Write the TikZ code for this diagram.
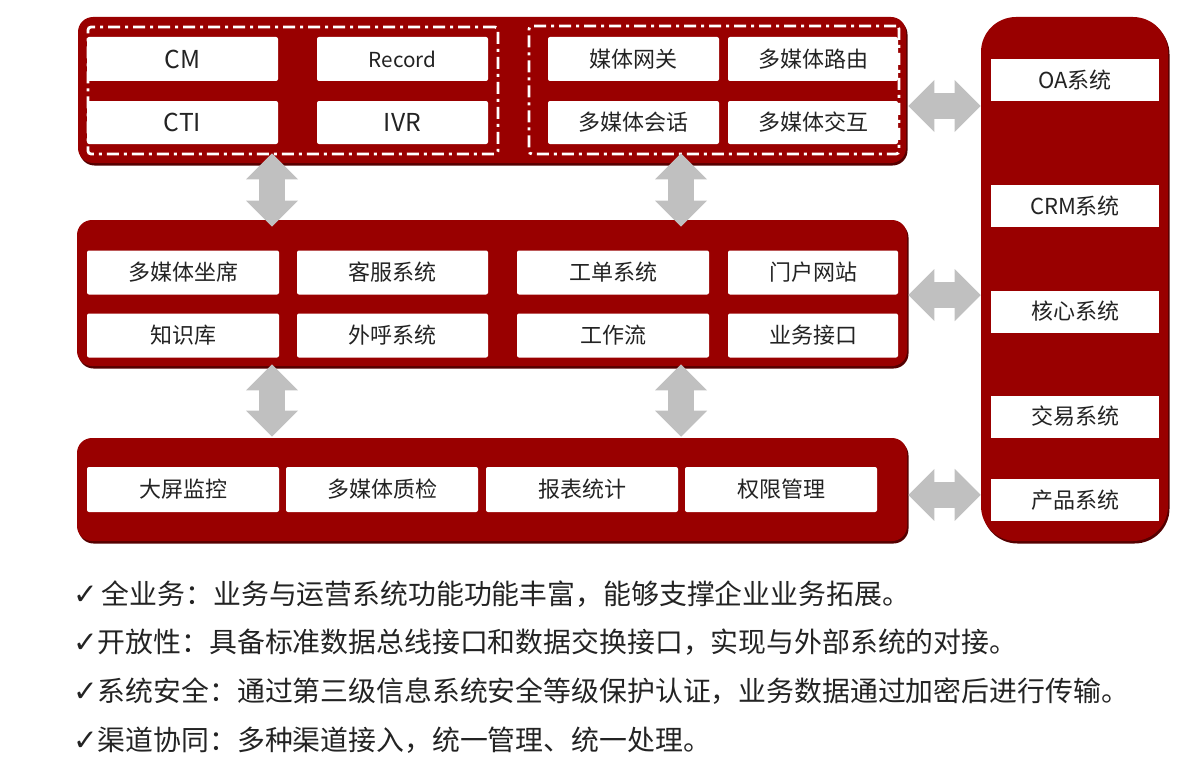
\documentclass[tikz,border=0pt]{standalone}
\usepackage{fontspec}
\setmainfont{Noto Sans CJK SC}
\newfontfamily\symfont{DejaVu Sans}
\usepackage{xcolor}
\usepackage{tikz}
\usetikzlibrary{arrows.meta, shadows}
\definecolor{blockred}{RGB}{153, 0, 0}
\definecolor{edgered}{RGB}{85, 0, 0}
\definecolor{arrowgray}{RGB}{192, 192, 192}
\definecolor{textgray}{RGB}{35, 35, 35}
\newdimen\pix
\pix=0.75pt
\newcommand{\tick}{{\symfont\fontsize{22}{24}\selectfont ✓}}

\begin{document}
\begin{tikzpicture}[x=0.75pt, y=-0.75pt,
  block/.style={fill=blockred, inner sep=0pt, rounded corners=15\pix,
    drop shadow={shadow xshift=1.5\pix, shadow yshift=-2.5\pix, fill=edgered, opacity=1}},
  group/.style={draw=white, line width=2.8\pix, rounded corners=3\pix, inner sep=0pt,
    dash pattern=on 12\pix off 5\pix on 3\pix off 5\pix},
  item/.style={fill=white, rounded corners=2\pix, inner sep=0pt, text=textgray,
    font=\fontsize{16.5}{18}\selectfont},
  latin/.style={item, font=\fontsize{18.5}{20}\selectfont},
  link/.style={draw=arrowgray, line width=19.5pt,
    {Triangle[length=19.5pt, width=39pt, line width=0pt]}-{Triangle[length=19.5pt, width=39pt, line width=0pt]}},
  note/.style={anchor=west, inner sep=0pt, text=textgray, font=\fontsize{20.9}{24}\selectfont}
]
\useasboundingbox (0,0) rectangle (1198,774);

% blocks
\node[block, minimum width=828\pix, minimum height=146\pix] (platform) at (492,90) {};
\node[block, minimum width=830\pix, minimum height=146\pix] (app) at (492,293) {};
\node[block, minimum width=830\pix, minimum height=103\pix] (mgmt) at (492,489.5) {};
\node[block, rounded corners=35\pix, minimum width=187\pix, minimum height=524\pix] (ext) at (1074.5,279) {};

% platform
\node[group, minimum width=410\pix, minimum height=127\pix] (ccgrp) at (293,90.5) {};
\node[group, minimum width=370\pix, minimum height=128\pix] (mmgrp) at (714,90) {};

\node[latin, minimum width=191\pix, minimum height=44\pix] (cm) at (182.5,59) {CM};
\node[item, minimum width=171\pix, minimum height=44\pix, font=\fontsize{15.5}{18}\selectfont] (rec) at (402.5,59) {Record};
\node[latin, minimum width=191\pix, minimum height=43\pix] (cti) at (182.5,122.5) {CTI};
\node[latin, minimum width=171\pix, minimum height=43\pix] (ivr) at (402.5,122.5) {IVR};
\node[item, minimum width=171\pix, minimum height=44\pix] (gw) at (633.5,59) {媒体网关};
\node[item, minimum width=170\pix, minimum height=44\pix] (route) at (813,59) {多媒体路由};
\node[item, minimum width=171\pix, minimum height=43\pix] (sess) at (633.5,122.5) {多媒体会话};
\node[item, minimum width=170\pix, minimum height=43\pix] (inter) at (813,122.5) {多媒体交互};

% applications
\node[item, minimum width=192\pix, minimum height=44\pix] (seat) at (183,272.5) {多媒体坐席};
\node[item, minimum width=191\pix, minimum height=44\pix] (svc) at (392.5,272.5) {客服系统};
\node[item, minimum width=192\pix, minimum height=44\pix] (order) at (613,272.5) {工单系统};
\node[item, minimum width=170\pix, minimum height=44\pix] (portal) at (813,272.5) {门户网站};
\node[item, minimum width=192\pix, minimum height=44\pix] (kb) at (183,335.5) {知识库};
\node[item, minimum width=191\pix, minimum height=44\pix] (call) at (392.5,335.5) {外呼系统};
\node[item, minimum width=192\pix, minimum height=44\pix] (flow) at (613,335.5) {工作流};
\node[item, minimum width=170\pix, minimum height=44\pix] (api) at (813,335.5) {业务接口};

% management
\node[item, minimum width=192\pix, minimum height=45\pix] (screen) at (183,489.5) {大屏监控};
\node[item, minimum width=192\pix, minimum height=45\pix] (qc) at (382,489.5) {多媒体质检};
\node[item, minimum width=192\pix, minimum height=45\pix] (report) at (582,489.5) {报表统计};
\node[item, minimum width=192\pix, minimum height=45\pix] (auth) at (781,489.5) {权限管理};

% external systems
\node[item, rounded corners=0pt, minimum width=168\pix, minimum height=42\pix] (oa) at (1075,80) {OA系统};
\node[item, rounded corners=0pt, minimum width=168\pix, minimum height=42\pix] (crm) at (1075,206) {CRM系统};
\node[item, rounded corners=0pt, minimum width=168\pix, minimum height=42\pix] (corebiz) at (1075,311.5) {核心系统};
\node[item, rounded corners=0pt, minimum width=168\pix, minimum height=42\pix] (trade) at (1075,416.5) {交易系统};
\node[item, rounded corners=0pt, minimum width=168\pix, minimum height=42\pix] (prod) at (1075,500) {产品系统};

% links
\coordinate (lx) at (272,0);
\coordinate (rx) at (681,0);
\draw[link] ([yshift=7.5pt]platform.south -| lx) -- ([yshift=-5.25pt]app.north -| lx);
\draw[link] ([yshift=7.5pt]platform.south -| rx) -- ([yshift=-5.25pt]app.north -| rx);
\draw[link] ([yshift=1.5pt]app.south -| lx) -- ([yshift=0.75pt]mgmt.north -| lx);
\draw[link] ([yshift=1.5pt]app.south -| rx) -- ([yshift=0.75pt]mgmt.north -| rx);
\draw[link] ([xshift=1.5pt, yshift=-12pt]platform.east) -- ([yshift=-12pt]platform.east -| ext.west);
\draw[link] ([xshift=0.75pt, yshift=-1.5pt]app.east) -- ([yshift=-1.5pt]app.east -| ext.west);
\draw[link] ([xshift=0.75pt, yshift=-4.1pt]mgmt.east) -- ([yshift=-4.1pt]mgmt.east -| ext.west);

% notes
\node[note] (line1) at (73,594) {\tick\hspace{3pt}全业务：业务与运营系统功能功能丰富，能够支撑企业业务拓展。};
\node[note] (line2) at (73,642) {\tick 开放性：具备标准数据总线接口和数据交换接口，实现与外部系统的对接。};
\node[note] (line3) at (73,691) {\tick 系统安全：通过第三级信息系统安全等级保护认证，业务数据通过加密后进行传输。};
\node[note] (line4) at (73,740) {\tick 渠道协同：多种渠道接入，统一管理、统一处理。};

\end{tikzpicture}
\end{document}
